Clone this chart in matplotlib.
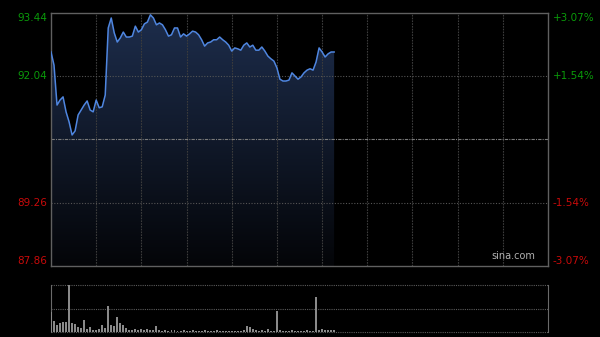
import numpy as np
import matplotlib
matplotlib.use('Agg')
import matplotlib.pyplot as plt
from matplotlib.colors import LinearSegmentedColormap

# price every 2 minutes (HK session, 330 minutes total)
prices = [92.58, 92.29, 91.41, 91.52, 91.59, 91.26, 91.04, 90.75, 90.84, 91.19,
          91.30, 91.41, 91.50, 91.30, 91.26, 91.52, 91.35, 91.37, 91.63, 93.11,
          93.33, 93.00, 92.80, 92.89, 93.02, 92.91, 92.91, 92.93, 93.15, 93.02,
          93.07, 93.20, 93.24, 93.40, 93.33, 93.18, 93.22, 93.18, 93.07, 92.93,
          92.96, 93.11, 93.11, 92.91, 92.98, 92.93, 92.98, 93.04, 93.02, 92.96,
          92.85, 92.71, 92.78, 92.80, 92.85, 92.85, 92.91, 92.85, 92.80, 92.73,
          92.60, 92.67, 92.65, 92.62, 92.73, 92.78, 92.69, 92.73, 92.62, 92.62,
          92.69, 92.60, 92.49, 92.43, 92.38, 92.23, 91.98, 91.94, 91.94, 91.96,
          92.12, 92.05, 91.98, 92.03, 92.12, 92.18, 92.21, 92.18, 92.36, 92.67,
          92.58, 92.47, 92.54, 92.58, 92.58]

volumes = [20, 11, 7, 9, 10, 10, 47, 9, 8, 5,
           4, 12, 3, 5, 2, 2, 3, 7, 4, 26,
           7, 6, 15, 9, 7, 4, 2, 2, 3, 2,
           3, 2, 3, 2, 2, 6, 2, 1, 2, 1,
           2, 2, 1, 1, 2, 1, 1, 2, 1, 1,
           1, 2, 1, 1, 1, 2, 1, 1, 1, 1,
           1, 1, 1, 1, 2, 6, 5, 3, 2, 1,
           2, 1, 3, 1, 1, 21, 2, 1, 1, 1,
           2, 1, 1, 1, 1, 2, 1, 1, 35, 2,
           3, 2, 2, 2, 2]

prev_close = 90.65
y_low, y_high = 87.86, 93.44
left_labels = ['93.44', '92.04', '89.26', '87.86']
left_vals = [93.44, 92.04, 89.26, 87.86]
right_labels = ['+3.07%', '+1.54%', '-1.54%', '-3.07%']
label_colors = ['#0a9a0a', '#0a9a0a', '#c80a0a', '#c80a0a']

minutes = np.arange(len(prices)) * 2
total_min = 330

fig = plt.figure(figsize=(6, 3.37), dpi=100, facecolor='black')
ax = fig.add_axes([51 / 600, 1 - 266 / 337, 497 / 600, 253 / 337])
vax = fig.add_axes([51 / 600, 1 - 332 / 337, 497 / 600, 47 / 337])

for a in (ax, vax):
    a.set_facecolor('black')
    a.set_xlim(0, total_min)
    a.set_xticks([])
    a.set_yticks([])

ax.set_ylim(y_low, y_high)
for s in ax.spines.values():
    s.set_color('#606060')
    s.set_linewidth(1)

# gradient fill under the line
grad = np.linspace(0, 1, 256).reshape(-1, 1)
cmap = LinearSegmentedColormap.from_list('g', ['#040508', '#1d2d4c'])
poly = ax.fill_between(minutes, prices, y_low, color='none', lw=0)
img = ax.imshow(grad, cmap=cmap, aspect='auto', origin='lower',
                extent=[0, minutes[-1], y_low, max(prices)], zorder=1)
img.set_clip_path(poly.get_paths()[0], transform=ax.transData)

# grid on top of fill
for m in range(30, total_min, 30):
    ax.axvline(m, color='#3c3c3c', lw=0.8, ls=(0, (1.5, 1)), zorder=2)
for v in (92.04, 89.26):
    ax.axhline(v, color='#555555', lw=0.8, ls=(0, (1, 1.5)), zorder=2)
ax.axhline(prev_close, color='#7a7a7a', lw=0.8, ls=(0, (3, 1, 1, 1)), zorder=2)

ax.plot(minutes, prices, color='#4f86e0', lw=1.1, zorder=3)

for lab, v, c in zip(left_labels, left_vals, label_colors):
    off = -0.12 if v == y_high else (0.12 if v == y_low else 0)
    ax.text(-0.008, v + off, lab, transform=ax.get_yaxis_transform(),
            ha='right', va='center', color=c, fontsize=7.5)
for lab, v, c in zip(right_labels, left_vals, label_colors):
    off = -0.12 if v == y_high else (0.12 if v == y_low else 0)
    ax.text(1.01, v + off, lab, transform=ax.get_yaxis_transform(),
            ha='left', va='center', color=c, fontsize=7.5)

ax.text(0.975, 0.02, 'sina.com', transform=ax.transAxes, ha='right',
        va='bottom', color='#b0b0b0', fontsize=7)

# volume panel
vax.set_ylim(0, 47)
vax.bar(minutes, volumes, width=1.3, color='#8a8a8a', zorder=3)
for s in ('top', 'bottom'):
    vax.spines[s].set_visible(False)
for s in ('left', 'right'):
    vax.spines[s].set_color('#6a6a6a')
for v in (0, 23.5, 47):
    vax.axhline(v, color='#5a5a5a', lw=0.8, ls=(0, (1, 1)), zorder=1,
                clip_on=False)

fig.savefig('out.png', dpi=100, facecolor='black')
